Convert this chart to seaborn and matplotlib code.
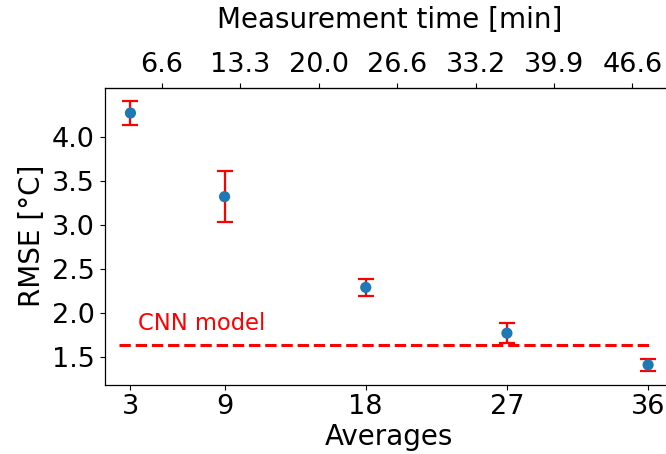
import numpy as np
import pandas as pd
import matplotlib
matplotlib.use("Agg")
import matplotlib.pyplot as plt
import seaborn as sns
from matplotlib.ticker import FormatStrFormatter

averages = [3, 9, 18, 27, 36]
rmse = [4.27, 3.32, 2.29, 1.77, 1.41]
rmse_err = [0.135, 0.29, 0.10, 0.11, 0.07]
cnn_rmse = 1.64

y_ticks = [1.5, 2.0, 2.5, 3.0, 3.5, 4.0]
time_tick_pos = [5, 10, 15, 20, 25, 30, 35]
time_tick_labels = ["6.6", "13.3", "20.0", "26.6", "33.2", "39.9", "46.6"]

df = pd.DataFrame({"Averages": averages, "RMSE": rmse, "err": rmse_err})

sns.set_style("ticks", {"text.color": "black", "axes.labelcolor": "black",
                        "xtick.color": "black", "ytick.color": "black",
                        "axes.edgecolor": "black"})
plt.rcParams["font.family"] = ["DejaVu Sans"]
fs_lab = 20
fs_tick = 19.5

fig = plt.figure(figsize=(6.66, 4.54), dpi=100)
ax = fig.add_axes([0.157, 0.153, 1.012 - 0.157, 0.807 - 0.153])

ax.errorbar(df["Averages"], df["RMSE"], yerr=df["err"], fmt="none",
            ecolor="red", elinewidth=1.6, capsize=5.8, capthick=1.6, zorder=2)
sns.scatterplot(data=df, x="Averages", y="RMSE", color="#1f77b4", s=65,
                edgecolor="none", zorder=3, ax=ax)

ax.axhline(cnn_rmse, xmin=0.025, xmax=0.96, color="red", ls="--", lw=2.2)
ax.text(3.5, 1.88, "CNN model", color="red", fontsize=16.3, va="center", ha="left")

ax.set_xticks(averages)
ax.set_yticks(y_ticks)
ax.yaxis.set_major_formatter(FormatStrFormatter("%.1f"))
ax.set_xlabel("Averages", fontsize=fs_lab, labelpad=2)
ax.set_ylabel("RMSE [°C]", fontsize=fs_lab)
ax.tick_params(labelsize=fs_tick, colors="black")

top = ax.secondary_xaxis("top")
top.set_xticks(time_tick_pos)
top.set_xticklabels(time_tick_labels)
top.tick_params(labelsize=fs_tick, colors="black")
top.set_xlabel("Measurement time [min]", fontsize=fs_lab, labelpad=17)

for sp in ax.spines.values():
    sp.set_color("black")
    sp.set_linewidth(0.9)

fig.savefig("out.png", dpi=100)
plt.close(fig)
